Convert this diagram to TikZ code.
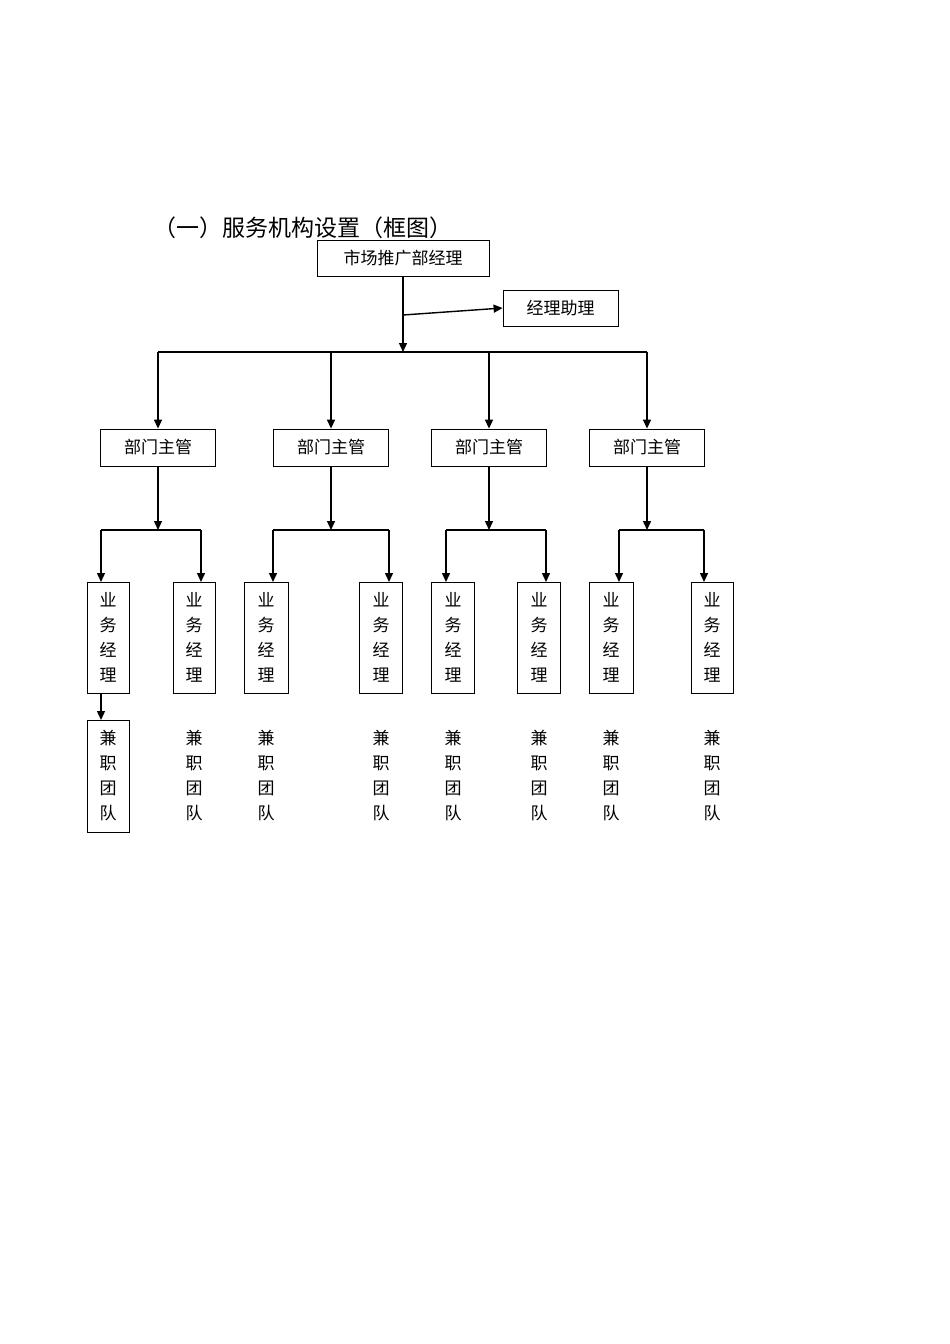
\documentclass[tikz,border=0pt]{standalone}
\usepackage{fontspec}
\setmainfont{Noto Sans CJK SC}
\usetikzlibrary{arrows.meta}
\begin{document}
\begin{tikzpicture}[x=1pt,y=-1pt,
  box/.style={draw,line width=0.8pt,inner sep=0pt},
  arr/.style={line width=1.4pt,-{Triangle[length=9pt,width=8pt]}},
  ln/.style={line width=1.2pt},
  lab/.style={font=\fontsize{17}{25}\selectfont,align=center,inner sep=0pt},
  vlab/.style={font=\fontsize{17}{25}\selectfont,align=center,inner sep=0pt}]
\useasboundingbox (0,0) rectangle (950,1344);
\node[font=\fontsize{23}{28}\selectfont,anchor=west] (title) at (150,228) {（一）服务机构设置（框图）};
\node[box,minimum width=172pt,minimum height=36pt,lab] (top) at (403,258) {市场推广部经理};
\node[box,minimum width=115pt,minimum height=36pt,lab] (asst) at (560.5,308) {经理助理};
\coordinate (j1) at (403,315);
\coordinate (j2) at (403,352);
\draw[ln] (top.south) -- (j1);
\draw[arr] (j1) -- (j2);
\draw[arr] (j1) -- (asst.west);
\draw[ln] (158,352) -- (647,352);
\foreach \i/\x/\a/\b in {1/158/101/201, 2/331/273/389, 3/489/446/546, 4/647/619/704}{
  \node[box,minimum width=115pt,minimum height=37pt,lab] (d\i) at (\x,447.5) {部门主管};
  \coordinate (t\i) at (\x,352);
  \draw[arr] (t\i) -- (d\i.north);
  \coordinate (h\i) at (\x,530);
  \draw[arr] (d\i.south) -- (h\i);
  \coordinate (la\i) at (\a,530);
  \coordinate (lb\i) at (\b,530);
  \draw[ln] (la\i) -- (lb\i);
  \coordinate (ea\i) at (\a,582);
  \coordinate (eb\i) at (\b,582);
  \draw[arr] (la\i) -- (ea\i);
  \draw[arr] (lb\i) -- (eb\i);
}
\foreach \n/\x/\w in {1/108/42, 2/194/42, 3/266/44, 4/381/43, 5/453/43, 6/539/43, 7/611/44, 8/712/42}{
  \node[box,minimum width=\w pt,minimum height=111pt,vlab] (m\n) at (\x,637.5) {业\\务\\经\\理};
}
\node[box,minimum width=42pt,minimum height=112pt,vlab] (p1) at (108,776) {兼\\职\\团\\队};
\coordinate (ms) at (101,693);
\coordinate (pn) at (101,720);
\draw[arr] (ms) -- (pn);
\foreach \n/\x in {2/194, 3/266, 4/381, 5/453, 6/539, 7/611, 8/712}{
  \node[vlab] (p\n) at (\x,776) {兼\\职\\团\\队};
}
\end{tikzpicture}
\end{document}
